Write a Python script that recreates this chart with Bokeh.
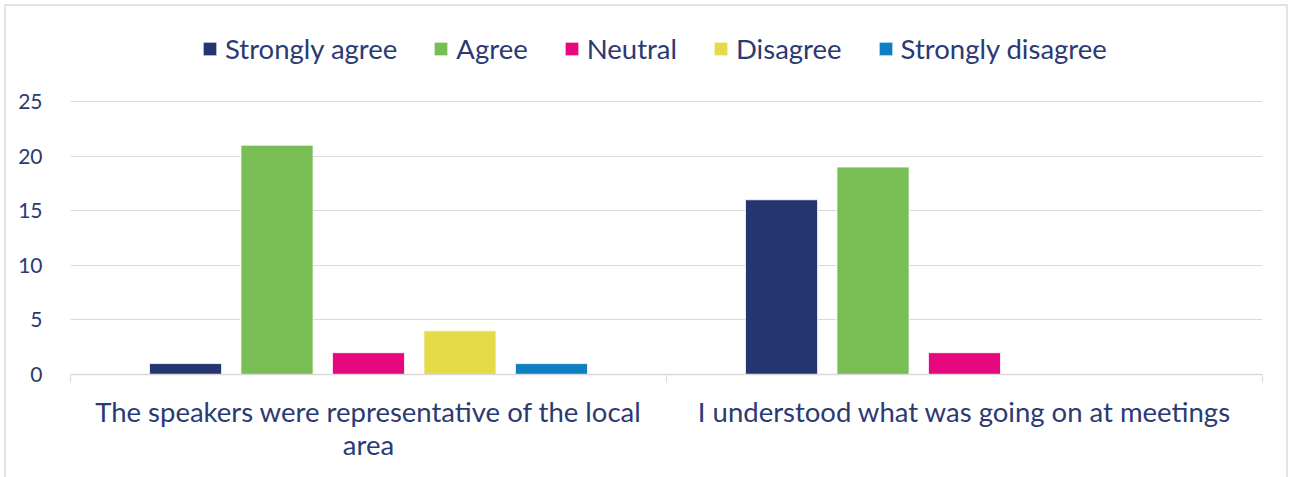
from bokeh.plotting import figure
from bokeh.models import ColumnDataSource, FixedTicker, Legend, LegendItem, Range1d, InlineStyleSheet
from bokeh.transform import dodge
from bokeh.embed import file_html
from bokeh.resources import INLINE

categories = ["The speakers were representative of the local\narea",
              "I understood what was going on at meetings"]
series = ["Strongly agree", "Agree", "Neutral", "Disagree", "Strongly disagree"]
strongly_agree = [1, 16]
agree = [21, 19]
neutral = [2, 2]
disagree = [4, 0]
strongly_disagree = [1, 0]
y_ticks = [0, 5, 10, 15, 20, 25]

colors = ["#243570", "#78BE55", "#E6087F", "#E5DA48", "#0F7FC4"]
values = [strongly_agree, agree, neutral, disagree, strongly_disagree]
TEXT = "#2B3A72"
FONT = "Lato"

# layout (pixels)
W, H = 1292, 477
FRAME_LEFT, FRAME_RIGHT = 70, 1262
FRAME_TOP, Y0_PIX, Y25_PIX = 19, 374, 101
y_top = 25 * (Y0_PIX - FRAME_TOP) / (Y0_PIX - Y25_PIX)

xs = [i + 0.5 for i in range(len(categories))]
data = {"x": xs}
keys = ["sa", "ag", "ne", "di", "sd"]
for k, v in zip(keys, values):
    data[k] = v
src = ColumnDataSource(data)

border_css = InlineStyleSheet(css="""
:host::after {
  content: '';
  position: absolute;
  left: 4px; top: 4px; right: 4px; bottom: -20px;
  border: 2px solid #E2E2E2;
  pointer-events: none;
}
""")

p = figure(width=W, height=H, output_backend="svg", toolbar_location=None,
           x_range=Range1d(0, len(categories)), y_range=Range1d(0, y_top),
           min_border_left=FRAME_LEFT, min_border_right=W - FRAME_RIGHT,
           min_border_top=FRAME_TOP, min_border_bottom=H - Y0_PIX,
           stylesheets=[border_css])
p.outline_line_color = None

renderers = []
step = 0.1535
for i, (k, c, name) in enumerate(zip(keys, colors, series)):
    r = p.vbar(x=dodge("x", (i - 2) * step, range=p.x_range), top=k, width=0.121,
               source=src, fill_color=c, line_color="white", line_width=0.8)
    renderers.append((name, r))

legend = Legend(items=[LegendItem(label=n, renderers=[r]) for n, r in renderers],
                orientation="horizontal", location=(131, Y0_PIX - 44 - 21),
                label_text_font=FONT, label_text_font_size="27.5px", label_text_color=TEXT,
                label_height=34, glyph_width=17, glyph_height=17, spacing=35, label_standoff=7,
                border_line_color=None, background_fill_alpha=0, padding=4, margin=0)
p.add_layout(legend, "center")

# x axis
p.xaxis.ticker = FixedTicker(ticks=xs, minor_ticks=[0, 1, 2])
p.xaxis.major_label_overrides = {x: c for x, c in zip(xs, categories)}
p.xaxis.major_tick_line_color = None
p.xaxis.major_tick_out = 0
p.xaxis.major_tick_in = 0
p.xaxis.minor_tick_out = 8
p.xaxis.minor_tick_in = 0
p.xaxis.minor_tick_line_color = "#D9D9D9"
p.xaxis.axis_line_color = "#D9D9D9"
p.xaxis.axis_line_width = 1.5
p.xaxis.major_label_text_font = FONT
p.xaxis.major_label_text_font_size = "27.5px"
p.xaxis.major_label_text_color = TEXT
p.xaxis.major_label_text_line_height = 1.0
p.xaxis.major_label_standoff = 12

# y axis
p.yaxis.ticker = FixedTicker(ticks=y_ticks)
p.yaxis.axis_line_color = None
p.yaxis.major_tick_line_color = None
p.yaxis.minor_tick_line_color = None
p.yaxis.major_label_text_font = FONT
p.yaxis.major_label_text_font_size = "21px"
p.yaxis.major_label_text_color = TEXT
p.yaxis.major_label_standoff = 22

p.xgrid.grid_line_color = None
p.ygrid.grid_line_color = "#D9D9D9"
p.ygrid.grid_line_width = 1.2

open("out.html", "w").write(file_html(p, INLINE))
